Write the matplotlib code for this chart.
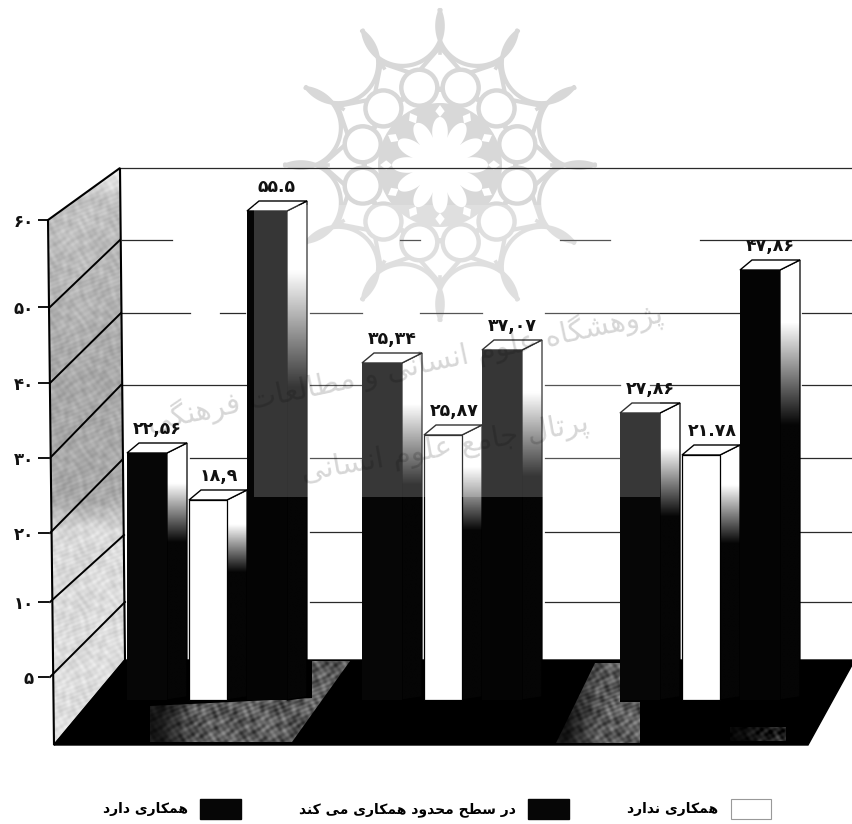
import numpy as np
import matplotlib
matplotlib.use("Agg")
import matplotlib.pyplot as plt
from matplotlib.patches import Polygon, Rectangle, Patch, Circle

# ---------- data ----------
series_names = ["همکاری دارد", "در سطح محدود همکاری می کند", "همکاری ندارد"]
values_limited = [22.56, 35.34, 27.86]
values_none = [18.9, 25.87, 21.78]
values_yes = [55.5, 37.07, 47.86]
labels_limited = ["۲۲,۵۶", "۳۵,۳۴", "۲۷,۸۶"]
labels_none = ["۱۸,۹", "۲۵,۸۷", "۲۱.۷۸"]
labels_yes = ["۵۵.۵", "۳۷,۰۷", "۴۷,۸۶"]
axis_ticks = [5, 10, 20, 30, 40, 50, 60]
axis_tick_labels = ["۵", "۱۰", "۲۰", "۳۰", "۴۰", "۵۰", "۶۰"]

# ---------- Persian shaping (matplotlib lays text out left to right, unshaped) ----------
F = {'ا': (0xFE8D, 0xFE8E), 'د': (0xFEA9, 0xFEAA), 'ر': (0xFEAD, 0xFEAE), 'ز': (0xFEAF, 0xFEB0),
     'ژ': (0xFB8A, 0xFB8B), 'و': (0xFEED, 0xFEEE),
     'ه': (0xFEE9, 0xFEEA, 0xFEEB, 0xFEEC), 'م': (0xFEE1, 0xFEE2, 0xFEE3, 0xFEE4),
     'ک': (0xFB8E, 0xFB8F, 0xFB90, 0xFB91), 'ی': (0xFBFC, 0xFBFD, 0xFBFE, 0xFBFF),
     'ن': (0xFEE5, 0xFEE6, 0xFEE7, 0xFEE8), 'س': (0xFEB1, 0xFEB2, 0xFEB3, 0xFEB4),
     'ط': (0xFEC1, 0xFEC2, 0xFEC3, 0xFEC4), 'ح': (0xFEA1, 0xFEA2, 0xFEA3, 0xFEA4),
     'پ': (0xFB56, 0xFB57, 0xFB58, 0xFB59), 'ش': (0xFEB5, 0xFEB6, 0xFEB7, 0xFEB8),
     'گ': (0xFB92, 0xFB93, 0xFB94, 0xFB95), 'ع': (0xFEC9, 0xFECA, 0xFECB, 0xFECC),
     'ل': (0xFEDD, 0xFEDE, 0xFEDF, 0xFEE0), 'ت': (0xFE95, 0xFE96, 0xFE97, 0xFE98),
     'ف': (0xFED1, 0xFED2, 0xFED3, 0xFED4), 'ج': (0xFE9D, 0xFE9E, 0xFE9F, 0xFEA0)}


def shape(s):
    out = []
    for i, c in enumerate(s):
        if c not in F:
            out.append(c)
            continue
        prev_j = i > 0 and s[i - 1] in F and len(F[s[i - 1]]) == 4
        next_j = i + 1 < len(s) and s[i + 1] in F
        forms = F[c]
        if len(forms) == 2:
            out.append(chr(forms[1] if prev_j else forms[0]))
        elif prev_j and next_j:
            out.append(chr(forms[3]))
        elif prev_j:
            out.append(chr(forms[1]))
        elif next_j:
            out.append(chr(forms[2]))
        else:
            out.append(chr(forms[0]))
    return "".join(reversed(out))


# ---------- figure and scales ----------
W, H = 852, 824
fig = plt.figure(figsize=(W / 100, H / 100), dpi=100, facecolor="white")
plt.rcParams["font.family"] = ["DejaVu Sans"]

pax = fig.add_axes([0, 0, 1, 1], zorder=1)      # pixel space for the 3-D scenery
pax.set_xlim(0, W)
pax.set_ylim(H, 0)
pax.axis("off")

# The printed bars do not follow a linear axis, so the value axis is a piecewise scale.
bar_v = [-100, 0, 18.9, 21.78, 22.56, 25.87, 27.86, 35.34, 37.07, 47.86, 55.5, 100]
bar_p = [0, 124, 324, 369, 371, 389, 411, 461, 474, 554, 613, 824]
ax = fig.add_axes([0, 0, 1, 1], zorder=2)
ax.patch.set_alpha(0)
ax.set_yscale("function", functions=(lambda v: np.interp(v, bar_v, bar_p),
                                     lambda p: np.interp(p, bar_p, bar_v)))
ax.set_ylim(-100, 100)
ax.set_xlim(0, W)
ax.axis("off")


def to_px(x, v):
    return pax.transData.inverted().transform(ax.transData.transform((x, v)))


def texture(xs, ys):
    X, Y = np.meshgrid(xs, ys)
    t = np.sin(X * .31 + 2 * np.sin(Y * .13)) * np.sin(Y * .27 + 1.7 * np.sin(X * .19))
    t += .6 * np.sin(X * .73 + Y * .41 + np.sin(Y * .09) * 3) * np.sin(Y * .83 - X * .17)
    return X, Y, t / 1.6


# ---------- watermark rosette ----------
cx, cy = 440, 165
ROS = "#d8d8d8"


def pol(r, deg):
    a = np.radians(deg)
    return cx + r * np.sin(a), cy - r * np.cos(a)


pax.add_patch(Circle((cx, cy), 62, fc=ROS, ec="none", zorder=1))
th = np.radians(np.linspace(0, 360, 721))
rf = 28 + 20 * np.abs(np.cos(6 * th)) ** 0.7
pax.fill(cx + rf * np.sin(th), cy - rf * np.cos(th), fc="white", ec="none", zorder=1.1)
for k in range(12):
    a0 = 30 * k
    a = a0 + 15
    u = np.array([np.sin(np.radians(a)), -np.cos(np.radians(a))])
    v = np.array([u[1], -u[0]])
    c = np.array([cx, cy]) + 144 * u
    ts = np.radians(np.linspace(-98.5, 98.5, 60))
    pts = np.array([c - 40 * np.cos(t) * u + 40 * np.sin(t) * v for t in ts])
    pax.plot(pts[:, 0], pts[:, 1], color=ROS, lw=3.0, zorder=1, solid_capstyle="round")
    sx, sy = zip(pol(112, a0), pol(146, a0))
    pax.plot(sx, sy, color=ROS, lw=2.6, zorder=1)
    kite = [pol(118, a0), pol(97, a0 + 12), pol(75, a0), pol(97, a0 - 12), pol(118, a0)]
    kx, ky = zip(*kite)
    pax.plot(kx, ky, color=ROS, lw=3.0, zorder=1)
    lx, ly = pol(80, a)
    pax.add_patch(Circle((lx, ly), 18, fc="white", ec=ROS, lw=3.2, zorder=1.05))
    dm = [pol(48, a0), pol(54, a0 + 5), pol(60, a0), pol(54, a0 - 5)]
    pax.add_patch(Polygon(dm, fc="white", ec="none", zorder=1.1))

# ---------- back-wall grid lines ----------
grid_segments = {
    168: [(120, 852)],
    240: [(122, 172), (400, 420), (560, 610), (700, 852)],
    313: [(122, 190), (220, 245), (310, 362), (420, 482), (545, 740), (802, 852)],
    385: [(122, 252), (310, 362), (545, 620), (650, 740), (802, 852)],
    458: [(190, 250), (310, 362), (545, 620), (800, 852)],
    532: [(310, 362), (545, 620), (800, 852)],
    602: [(310, 362), (545, 620), (800, 852)],
}
for gy, segs in grid_segments.items():
    for x0, x1 in segs:
        pax.plot([x0, x1], [gy, gy], color="#2a2a2a", lw=0.9, zorder=2)

# ---------- left wall ----------
wall = [(48, 220), (120, 168), (125, 660), (54, 745)]
xs = np.arange(45, 130)
ys = np.arange(165, 750)
_, Yw, tw = texture(xs, ys)
base = np.interp(Yw, [165, 200, 380, 500, 530, 745], [.98, .76, .66, .66, .85, .87])
im = pax.imshow(base + .07 * tw, cmap="gray", vmin=0, vmax=1, aspect="auto", zorder=3,
                extent=(45, 130, 750, 165), interpolation="bilinear")
im.set_clip_path(Polygon(wall, transform=pax.transData))
pax.add_patch(Polygon(wall, fc="none", ec="black", lw=1.5, zorder=4))
for y0, y1, x1 in [(307, 240, 120), (383, 313, 121), (458, 385, 121),
                   (533, 460, 122), (602, 535, 124), (677, 602, 125)]:
    pax.plot([50, x1], [y0, y1], color="black", lw=1.4, zorder=4)

# ---------- floor ----------
floor = [(54, 745), (125, 660), (852, 660), (852, 665), (808, 745)]
pax.add_patch(Polygon(floor, fc="black", ec="black", lw=1, zorder=5))
xs = np.arange(120, 800)
ys = np.arange(655, 750)
Xf, Yf, tf = texture(xs, ys)
for poly, level in [([(150, 706), (312, 698), (312, 661), (350, 661), (292, 742), (150, 742)], .36),
                    ([(556, 743), (595, 663), (620, 663), (620, 702), (640, 702), (640, 743)], .36),
                    ([(730, 727), (786, 727), (786, 741), (730, 741)], .14)]:
    fade = np.clip((Xf - poly[0][0]) / 45, .25, 1)
    imf = pax.imshow(np.clip((level + .2 * tf) * fade, 0, 1), cmap="gray", vmin=0, vmax=1,
                     aspect="auto", zorder=5.1, extent=(120, 800, 750, 655),
                     interpolation="bilinear")
    imf.set_clip_path(Polygon(poly, transform=pax.transData))

# ---------- bars ----------
group_left = [127, 362, 620]
bar_offset = [0, 62, 120]
bar_width = [40, 38, 40]
dx = 20
dy = 10
series = [(values_limited, labels_limited, "#060606"),
          (values_none, labels_none, "white"),
          (values_yes, labels_yes, "#040404")]

for s, (vals, labs, col) in enumerate(series):
    for g, val in enumerate(vals):
        x = group_left[g] + bar_offset[s]
        w = bar_width[s]
        _, top = to_px(x, val)
        _, bot = to_px(x, 0)
        side = [(x + w, top), (x + w + dx, top - dy), (x + w + dx, bot - 3), (x + w, bot)]
        h = bot - top
        yy = np.linspace(top - dy, bot, 200)
        grad = np.interp(yy, [top + .12 * h, top + .36 * h], [1, .02])[:, None]
        sim = pax.imshow(grad, cmap="gray", vmin=0, vmax=1, aspect="auto", zorder=6,
                         extent=(x + w, x + w + dx, bot, top - dy), interpolation="bilinear")
        sim.set_clip_path(Polygon(side, transform=pax.transData))
        pax.add_patch(Polygon(side, fc="none", ec="black", lw=0.9, zorder=6.5))
        topf = [(x, top), (x + dx * .6, top - dy), (x + w + dx, top - dy), (x + w, top)]
        pax.add_patch(Polygon(topf, fc="white", ec="black", lw=1.0, zorder=6.5))
        ax.bar(x, val, width=w, align="edge", color=col, edgecolor="black",
               linewidth=0.9 if col == "white" else 0, zorder=2)
        ax.annotate(labs[g], (x + 30, val), xytext=(0, 17.5), textcoords="offset points",
                    ha="center", va="center", fontsize=12.5, fontweight="bold", color="#111111",
                    annotation_clip=False, zorder=5)

# the scanned page has a pale rectangular panel and a faint watermark over the middle
ax.add_patch(Rectangle((254, 205), 406, 292, transform=pax.transData, fc="white", ec="none",
                       alpha=0.2, zorder=3))
ax.text(405, 368, shape("پژوهشگاه علوم انسانی و مطالعات فرهنگی"), transform=pax.transData,
        rotation=12, rotation_mode="anchor", ha="center", va="center", fontsize=21,
        color="black", alpha=0.16, zorder=4)
ax.text(445, 448, shape("پرتال جامع علوم انسانی"), transform=pax.transData,
        rotation=10, rotation_mode="anchor", ha="center", va="center", fontsize=21,
        color="black", alpha=0.16, zorder=4)

# ---------- value axis on the front edge of the wall ----------
wall_v = [-100, 5, 10, 20, 30, 40, 50, 60, 200]
wall_p = [0, 147, 222, 291, 366, 441, 517, 604, 824]
tax = fig.add_axes([49 / W, 0, 1 / W, 1], zorder=3)
tax.patch.set_alpha(0)
tax.set_yscale("function", functions=(lambda v: np.interp(v, wall_v, wall_p),
                                      lambda p: np.interp(p, wall_p, wall_v)))
tax.set_ylim(-100, 200)
tax.set_xticks([])
tax.set_yticks(axis_ticks)
tax.set_yticklabels(axis_tick_labels, fontsize=12, fontweight="bold", color="#111111")
tax.minorticks_off()
tax.tick_params(axis="y", which="major", length=8, width=1.3, pad=3, color="black")
for sp in tax.spines.values():
    sp.set_visible(False)

# ---------- legend ----------
handles = [Patch(fc="#060606", ec="#060606"), Patch(fc="#060606", ec="#060606"),
           Patch(fc="white", ec="#999999", lw=0.8)]
leg = fig.legend(handles, [shape(n) for n in series_names], ncols=3, frameon=False,
                 markerfirst=False, loc="lower left",
                 bbox_to_anchor=(98 / W, 0.0), borderaxespad=0, borderpad=0.35,
                 prop={"size": 10, "weight": "bold"}, handlelength=2.9, handleheight=1.9,
                 handletextpad=0.9, columnspacing=4.2)

fig.savefig("out.png", dpi=100, facecolor="white")
